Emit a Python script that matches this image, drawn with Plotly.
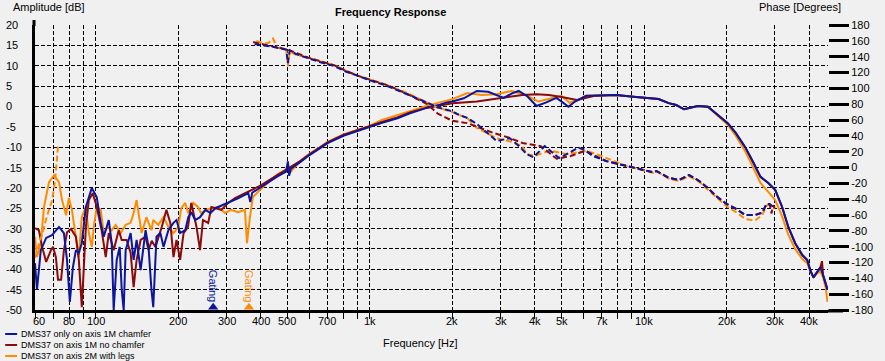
import math
import plotly.graph_objects as go

# ---------------- data ----------------
blue_amp_f = [60, 61, 63, 65.9, 69.2, 73.4, 76.5, 78.5, 80.4, 82.5, 84.6, 86.7, 88.9, 92, 96.7, 100.8, 104.2,
              106.9, 111.5, 114.3, 116.2, 119.2, 122.2, 124.3, 126.4, 128.5, 134, 137.4, 140.9, 145.7, 151.9,
              155.7, 159.6, 162, 166.5, 172, 176.6, 184, 192, 197, 203, 212, 217.5, 223, 230.5, 240, 251, 262,
              273, 304, 330, 360, 366, 372, 400, 425, 460, 495, 502, 507, 515, 560, 600, 650, 701, 800, 900,
              979, 1100, 1260, 1400, 1618, 1800, 1910, 2000, 2200, 2455, 2700, 3076, 3300, 3490, 3750, 4055,
              4400, 4790, 5050, 5300, 5600, 6150, 7000, 7900, 9350, 10200, 11300, 12300, 13100, 14000, 14800,
              15700, 17100, 18600, 20200, 21600, 23400, 25100, 26600, 28400, 30100, 31900, 33600, 35600, 37800,
              39400, 40400, 41500, 42800, 44000, 45000, 46000, 46700]
blue_amp_db = [-38.5, -45, -35.3, -32.3, -31.6, -29.6, -31.1, -37.7, -48, -39.5, -35.3, -36, -33.6, -24.7, -20,
               -22.3, -28.6, -32, -27.9, -33.6, -50, -37.7, -34.5, -45, -50, -35.3, -31.1, -37.7, -32.8, -40.2,
               -30.4, -34.5, -45, -49.3, -32, -31.1, -34.5, -30.4, -28.6, -27.9, -31.1, -30.4, -27.2, -26, -27.9,
               -27.2, -25.4, -26.2, -25, -23.7, -22.6, -21.3, -23.5, -21.2, -19.8, -18.6, -17.2, -16, -13.5, -17,
               -15.3, -13.6, -12, -10.5, -9, -7.2, -6, -5.3, -4.1, -2.9, -1.7, -0.3, 0.4, 1.0, 1.2, 2.0, 3.8, 3.6,
               2.1, 3.2, 3.8, 2.5, 0.1, 1.0, 2.1, 1.0, -0.1, 1.2, 2.6, 2.7, 2.8, 2.3, 2.1, 1.8, 0.8, 0.35, -0.7,
               -0.4, 0.1, -0.1, -2.1, -4.1, -6.5, -10, -13.9, -17.3, -18.8, -20.5, -24.7, -29.6, -33.6, -36.5,
               -37.7, -40.2, -42, -40.7, -39.5, -41.4, -43.5, -45]

red_amp_f = [60, 62, 63.7, 65.9, 68.6, 69.8, 71.5, 72.8, 74.7, 76.5, 78.5, 81.2, 84.6, 86.7, 88.9, 92, 94.3, 97.5,
             100.8, 105, 108.7, 111.5, 116.2, 121.2, 124.3, 129.6, 134, 137.4, 140.9, 145.7, 151.9, 155.7, 160,
             165, 174, 181, 187, 192, 197, 203, 209, 217, 223, 233, 240, 246, 257, 264, 287, 304, 322, 360, 400,
             425, 460, 502, 560, 600, 650, 701, 800, 900, 979, 1100, 1260, 1400, 1618, 1760, 2000, 2455, 2800,
             3155, 3600, 4055, 4500, 5000, 5700, 6600, 7900, 9350, 10200, 11300, 12300, 13100, 14000, 14800,
             15700, 17100, 18600, 20200, 21600, 23400, 25100, 26600, 28400, 30100, 31900, 33600, 35600, 37800,
             39400, 40400, 41500, 42800, 44000, 44600, 45000, 46000, 46700]
red_amp_db = [-29.9, -30.4, -34.5, -38.2, -35.3, -34.5, -37, -42.6, -42.6, -35.3, -30.9, -30.1, -32, -37.7, -49.3,
              -29.6, -23, -21.3, -24.7, -30.4, -37, -31.1, -35.3, -30.4, -32.8, -32.8, -36, -44.4, -37.7, -32.8,
              -32, -35.3, -33, -34.5, -29.6, -25.4, -28.6, -37, -32.8, -37.7, -31.1, -29.6, -23.7, -29.6, -35.3,
              -27.9, -28.6, -24.7, -25.4, -23.7, -22.5, -21.0, -19.4, -18.3, -16.8, -15.3, -13.3, -11.8, -10.3,
              -8.8, -7.0, -5.8, -5.1, -3.9, -2.7, -1.5, -0.3, 0.2, 0.8, 1.2, 1.8, 2.3, 2.8, 3.0, 2.8, 2.3, 1.6, 2.6,
              2.8, 2.3, 2.1, 1.8, 0.8, 0.35, -0.7, -0.4, 0.1, -0.1, -2.1, -4.1, -6.5, -10, -13.9, -17.3, -18.8,
              -20.5, -24.7, -29.6, -33.6, -36.5, -37.7, -40.2, -42, -40.7, -39.5, -38, -41.4, -43.5, -45]

orange_amp_f = [60, 61, 63, 64.7, 67.5, 70.4, 73.4, 75.3, 77.9, 79.8, 81.8, 84.6, 86.7, 88.9, 92, 94.3, 96.7, 98.3,
                100.8, 104.2, 106.9, 110.5, 114.3, 118.2, 123.2, 128.5, 134, 137.4, 140.9, 146.9, 153, 155.7,
                159.6, 162, 169, 176.6, 184, 192, 200, 205, 212, 217.5, 227, 236, 242, 253, 263, 280, 296, 311,
                330, 350, 356, 365, 374, 397, 425, 443, 460, 495, 502, 510, 560, 600, 650, 701, 800, 900, 979,
                1100, 1260, 1400, 1618, 1800, 2000, 2270, 2550, 2900, 3290, 3700, 4120, 4600, 5000, 5350, 5700,
                6150, 7000, 7900, 9350, 10200, 11300, 12300, 13100, 14000, 14800, 15700, 17100, 18600, 20200,
                21600, 23400, 25100, 26600, 28400, 30100, 31900, 33600, 35600, 37800, 39400, 40400, 41500,
                42800, 44000, 45000, 46000, 46700]
orange_amp_db = [-32, -37, -33.6, -24.7, -18.6, -16.9, -18.6, -23, -26.7, -22.5, -25.4, -32.8, -37, -27.2, -24.7,
                 -31.1, -34.5, -29.6, -24.7, -25.4, -31.1, -29.6, -30.4, -29.1, -31.1, -29.1, -28.6, -26.2, -23,
                 -31.1, -27.2, -28.6, -30.4, -27.9, -29.1, -27.2, -29.6, -31.1, -29.6, -25, -23.7, -26.2, -23.7,
                 -24.7, -26.2, -25.4, -25, -24.7, -26.2, -25.4, -26, -25.4, -33.6, -27.2, -22.3, -20.5, -18.6,
                 -17.6, -16.7, -15.5, -14.0, -16.3, -13.2, -11.7, -10.2, -8.7, -6.9, -5.7, -5.0, -3.4, -2.2, -1.2,
                 0.2, 1.0, 1.8, 3.3, 2.8, 3.0, 3.8, 2.8, 1.2, 2.0, 2.6, 0.9, 1.5, 2.6, 2.7, 2.8, 2.3, 2.1, 1.8, 0.8,
                 0.35, -0.7, -0.4, 0.1, -0.1, -2.3, -4.5, -7.2, -11, -15.2, -18.8, -21, -23, -27, -31.5, -35,
                 -37.5, -38.5, -40.5, -42, -41, -40.5, -42, -44.5, -48]

blue_ph_f = [380, 400, 425, 450, 473, 495, 502, 510, 540, 593, 660, 743, 820, 901, 1000, 1157, 1367, 1617, 1760,
             1910, 2000, 2080, 2270, 2455, 2670, 2900, 3240, 3500, 3730, 3950, 4340, 4600, 4900, 5300, 5750,
             6100, 6500, 7300, 8600, 9350, 10800, 11100, 12300, 13400, 14600, 15900, 17100, 18300, 20000, 21600,
             23400, 25400, 27000, 28000, 28700, 30000]
blue_ph_deg = [156, 155, 153, 152, 150, 149, 132, 148, 143, 138, 133, 128, 121, 116, 110, 103, 93, 82, 76, 73,
               71, 67.6, 62.5, 55, 43.6, 33.5, 37, 27, 17, 13, 27, 20, 12, 18, 25, 22, 14.5, 8, 2, -0.6, -6, -4.4,
               -13, -15.8, -9.5, -17, -26, -36, -46, -52, -60, -60, -57, -46, -46, -51]

red_ph_f = [375, 390, 410, 440, 473, 510, 593, 660, 743, 820, 901, 1000, 1157, 1367, 1617, 1770, 2000, 2270,
            2800, 3200, 3600, 4200, 4800, 5400, 6100, 7300, 8600, 9350, 10800, 11100, 12300, 13400, 14600,
            15900, 17100, 18300, 20000, 21600, 23400, 25400, 27000, 28000, 28700, 29200, 29500, 30000]
red_ph_deg = [158.5, 157, 155, 153, 151, 148, 139, 134, 129, 122, 116, 111, 104, 93, 80, 68, 59, 56, 44, 38, 31,
              27, 11, 14.5, 21, 8, 2, -0.6, -6, -4.4, -13, -15.8, -9.5, -17, -26, -36, -46, -52, -60, -60, -57,
              -46, -46, -58, -48, -51]

orange_ph_f = [60, 62, 63.7, 66.4, 69.2, 71, 72.1, 72.8, None, 385, 400, 425, 443, 460, 495, 502, 510, 540, 593,
               660, 743, 820, 901, 1000, 1157, 1367, 1617, 1760, 2000, 2270, 2455, 2700, 2900, 3240, 3600, 3730,
               4000, 4300, 4600, 5200, 5700, 6200, 7000, 8600, 9350, 10800, 11100, 12300, 13400, 14600, 15900,
               17100, 18300, 20000, 21600, 23400, 25400, 27000, 28000, 28700, 30000]
orange_ph_deg = [-114, -99, -84, -61, -42, -17, 8, 27, None, 160, 158, 157, 163, 151, 149, 128, 147, 142, 139,
                 134, 129, 122, 116, 111, 104, 94, 82, 76, 70, 62, 50, 42, 37, 33, 27, 17, 14.5, 19, 21, 17, 19,
                 21, 14.5, 2, -1, -7, -5, -14, -17, -11, -18, -28, -38, -49, -56, -65, -67, -60, -48, -47, -52]

series_names = ["DMS37 only on axis 1M chamfer", "DMS37 on axis 1M no chamfer", "DMS37 on axis 2M with legs"]
series_colors = ["#0c159c", "#8b0a0a", "#ff8c00"]

gating_freqs = [268, 362]
gating_colors = ["#0c159c", "#ff8c00"]

x_grid = [60, 70, 80, 90, 100, 200, 300, 400, 500, 600, 700, 800, 900, 1000, 2000, 3000, 4000, 5000, 6000,
          7000, 8000, 9000, 10000, 20000, 30000, 40000]
x_label_vals = [60, 80, 100, 200, 300, 400, 500, 700, 1000, 2000, 3000, 4000, 5000, 7000, 10000, 20000, 30000,
                40000]
x_label_text = ["60", "80", "100", "200", "300", "400", "500", "700", "1k", "2k", "3k", "4k", "5k", "7k", "10k",
                "20k", "30k", "40k"]
amp_ticks = list(range(-50, 25, 5))
phase_ticks = list(range(-180, 200, 20))

# ---------------- figure ----------------
L, R, T, B = 35, 833, 25, 310
W, H = R - L, B - T


def px(x):
    return (x - L) / W


def py(y):
    return (B - y) / H


FONT = "Liberation Sans, Arial, sans-serif"
fig = go.Figure()

amp = [(orange_amp_f, orange_amp_db, 2), (red_amp_f, red_amp_db, 1), (blue_amp_f, blue_amp_db, 0)]
ph = [(orange_ph_f, orange_ph_deg, 2), (red_ph_f, red_ph_deg, 1), (blue_ph_f, blue_ph_deg, 0)]

for f, v, i in ph:
    fig.add_trace(go.Scatter(x=f, y=v, mode="lines", yaxis="y2", name=series_names[i] + " phase",
                             line=dict(color=series_colors[i], width=2, dash="6px,3px"),
                             connectgaps=False, showlegend=False))
for f, v, i in amp:
    fig.add_trace(go.Scatter(x=f, y=v, mode="lines", name=series_names[i],
                             line=dict(color=series_colors[i], width=2), showlegend=False))

# gating markers
fig.add_trace(go.Scatter(x=gating_freqs, y=[-49.3, -49.3], mode="markers", cliponaxis=False,
                         marker=dict(symbol="triangle-up", size=9, color=gating_colors), showlegend=False))

annotations = []
for fg, c in zip(gating_freqs, gating_colors):
    annotations.append(dict(x=math.log10(fg), xref="x", y=py(286), yref="paper", text="Gating",
                            textangle=90, showarrow=False, font=dict(family=FONT, size=11, color=c),
                            xanchor="center", yanchor="middle"))

for v in amp_ticks:
    annotations.append(dict(x=px(4), xref="paper", y=v, yref="y", text=str(v), showarrow=False,
                            xanchor="left", yanchor="middle", font=dict(family=FONT, size=11, color="black")))

for v, t in zip(x_label_vals, x_label_text):
    annotations.append(dict(x=math.log10(v), xref="x", y=py(321), yref="paper", text=t, showarrow=False,
                            xanchor="center", yanchor="middle", xshift=4 if v == 60 else 0,
                            font=dict(family=FONT, size=11, color="black")))

annotations += [
    dict(x=px(11), y=py(7), xref="paper", yref="paper", text="Amplitude [dB]", showarrow=False,
         xanchor="left", yanchor="middle", font=dict(family=FONT, size=11, color="black")),
    dict(x=px(762), y=py(7), xref="paper", yref="paper", text="Phase [Degrees]", showarrow=False,
         xanchor="left", yanchor="middle", font=dict(family=FONT, size=11, color="black")),
    dict(x=px(393), y=py(12), xref="paper", yref="paper", text="<b>Frequency Response</b>", showarrow=False,
         xanchor="center", yanchor="middle", font=dict(family=FONT, size=11, color="black")),
    dict(x=px(423), y=py(343), xref="paper", yref="paper", text="Frequency [Hz]", showarrow=False,
         xanchor="center", yanchor="middle", font=dict(family=FONT, size=11, color="black")),
]

shapes = [
    dict(type="line", xref="paper", yref="paper", x0=px(833), x1=px(848), y0=py(311), y1=py(311),
         line=dict(color="black", width=3)),
    dict(type="line", xref="paper", yref="paper", x0=px(34), x1=px(34), y0=py(26), y1=py(20),
         line=dict(color="black", width=3)),
]
legend_y = [334, 345, 356]
for name, c, ly in zip(series_names, series_colors, legend_y):
    shapes.append(dict(type="line", xref="paper", yref="paper", x0=px(5), x1=px(17), y0=py(ly), y1=py(ly),
                       line=dict(color=c, width=2)))
    annotations.append(dict(x=px(19), y=py(ly), xref="paper", yref="paper", text=name, showarrow=False,
                            xanchor="left", yanchor="middle", font=dict(family=FONT, size=9, color="black")))

fig.update_layout(
    width=885, height=361, autosize=False,
    margin=dict(l=L, r=885 - R, t=T, b=361 - B, pad=0),
    paper_bgcolor="#f0f0f0", plot_bgcolor="#f0f0f0",
    showlegend=False,
    font=dict(family=FONT, size=11, color="black"),
    xaxis=dict(type="log", range=[math.log10(60), math.log10(46900)],
               tickvals=x_grid, showticklabels=False,
               ticks="outside", ticklen=6, tickwidth=1, tickcolor="black",
               showgrid=True, gridcolor="black", gridwidth=1, griddash="4px,2px",
               showline=True, linewidth=3, linecolor="black", zeroline=False, fixedrange=True),
    yaxis=dict(range=[-50, 20], tickvals=amp_ticks[1:], showticklabels=False, ticks="",
               showgrid=True, gridcolor="black", gridwidth=1, griddash="4px,2px",
               showline=True, linewidth=3, linecolor="black", zeroline=False, fixedrange=True),
    yaxis2=dict(range=[-180, 180], overlaying="y", side="right", tickvals=phase_ticks,
                ticktext=[str(v) for v in phase_ticks], ticks="outside", ticklen=20, tickwidth=3,
                tickcolor="black", showgrid=False, showline=False, zeroline=False,
                tickfont=dict(family=FONT, size=11, color="black"), fixedrange=True),
    annotations=annotations,
    shapes=shapes,
)

fig.write_html("out.html", config={"displayModeBar": False},
               post_script="document.body.style.margin='0px';document.body.style.background='#f0f0f0';")
